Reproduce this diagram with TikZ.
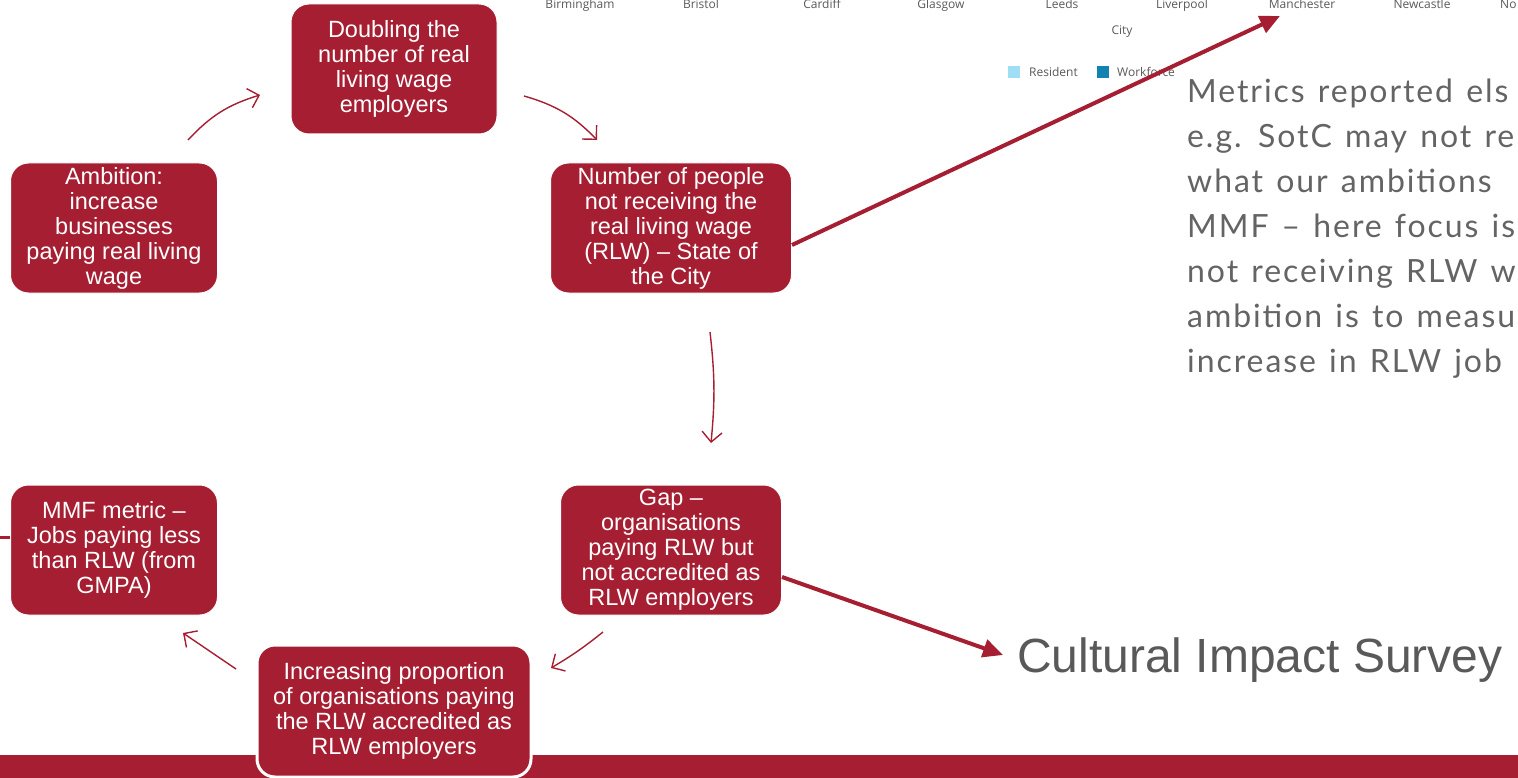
\documentclass[tikz,border=0pt]{standalone}
\usepackage{fontspec}
\setmainfont{Liberation Sans}
\newfontfamily\latofont[LetterSpace=6,WordSpace=1.3]{Lato}
\newfontfamily\chartfont{Open Sans}
\usetikzlibrary{arrows.meta}
\definecolor{crim}{RGB}{166,30,50}
\definecolor{txtgrey}{RGB}{89,89,89}
\definecolor{metricgrey}{RGB}{100,100,100}
\definecolor{resblue}{RGB}{160,222,246}
\definecolor{wfblue}{RGB}{18,130,176}
\begin{document}
\begin{tikzpicture}[x=1pt,y=-1pt,
  box/.style={draw=white,line width=1pt,fill=crim,rounded corners=18pt,text=white,align=center,
    font=\fontsize{23.5}{25}\selectfont,inner sep=0pt},
  thinarrow/.style={draw=crim,line width=1.4pt,-{Straight Barb[length=10pt,width=20pt,line width=1.4pt]}},
  thickarrow/.style={draw=crim,line width=4pt,-{Triangle[length=20pt,width=18pt]}},
  city/.style={font=\chartfont\fontsize{12}{14}\selectfont,text=txtgrey,anchor=base,inner sep=0pt},
  legend/.style={font=\chartfont\fontsize{12}{14}\selectfont,text=txtgrey,anchor=base west,inner sep=0pt}]
\path[use as bounding box,clip] (0,0) rectangle (1518,778);

% chart remnants
\node[city] (c1) at (580,9) {Birmingham};
\node[city] (c2) at (701,9) {Bristol};
\node[city] (c3) at (822,9) {Cardiff};
\node[city] (c4) at (941,9) {Glasgow};
\node[city] (c5) at (1062,9) {Leeds};
\node[city] (c6) at (1182,9) {Liverpool};
\node[city] (c7) at (1302,9) {Manchester};
\node[city] (c8) at (1422,9) {Newcastle};
\node[legend] (c9) at (1500,9) {No};
\node[city] (cityaxis) at (1122,35) {City};
\fill[resblue] (1008,66) rectangle (1020,78);
\node[legend] (lres) at (1029,77) {Resident};
\fill[wfblue] (1097,66) rectangle (1109,78);
\node[legend] (lwf) at (1117,77) {Workforce};

% bottom bar
\fill[crim] (0,755) rectangle (1518,778);

% boxes
\node[box,minimum width=206pt,minimum height=130pt] (dbl) at (394,69)
  {Doubling the\\number of real\\living wage\\employers};
\node[box,minimum width=241pt,minimum height=130pt] (num) at (671,228)
  {Number of people\\not receiving the\\real living wage\\(RLW) – State of\\the City};
\node[box,minimum width=207pt,minimum height=130pt] (amb) at (114,228)
  {Ambition:\\increase\\businesses\\paying real living\\wage};
\node[box,minimum width=221pt,minimum height=130pt] (gap) at (671,550)
  {Gap –\\organisations\\paying RLW but\\not accredited as\\RLW employers};
\node[box,minimum width=207pt,minimum height=130pt] (mmf) at (114,550)
  {MMF metric –\\Jobs paying less\\than RLW (from\\GMPA)};
\node[box,line width=3pt,minimum width=274pt,minimum height=132pt] (inc) at (394,711)
  {Increasing proportion\\of organisations paying\\the RLW accredited as\\RLW employers};

% texts
\node[anchor=north west,align=left,inner sep=0pt,text=metricgrey,
  font=\latofont\fontsize{32}{45}\selectfont] (metrics) at (1187,79)
  {Metrics reported els\\e.g. SotC may not re\\what our ambitions\\MMF – here focus is\\not receiving RLW w\\ambition is to measu\\increase in RLW job};
\node[anchor=base west,inner sep=0pt,text=txtgrey,font=\fontsize{48}{50}\selectfont] (cis) at (1017,672)
  {Cultural Impact Survey};

% free ends
\coordinate (a1s) at (188,140); \coordinate (a1e) at (260,95);
\coordinate (a2s) at (524,96);  \coordinate (a2e) at (597,140);
\coordinate (a3s) at (710,332); \coordinate (a3e) at (711,443);
\coordinate (a4s) at (603,632); \coordinate (a4e) at (551,668);
\coordinate (a5s) at (236,669); \coordinate (a5e) at (183,633);
\coordinate (manch) at (1280,16);
\coordinate (leftend) at (0,537);
\path ([xshift=-14pt]cis.west) coordinate (cisw);

% thin cycle arrows
\draw[thinarrow] (a1s) to[bend left=15] (a1e);
\draw[thinarrow] (a2s) to[bend left=15] (a2e);
\draw[thinarrow] (a3s) to[bend left=6] (a3e);
\draw[thinarrow] (a4s) to[bend left=4] (a4e);
\draw[thinarrow] (a5s) to (a5e);

% thick arrows
\draw[thickarrow] ([yshift=-17pt]num.east) -- (manch);
\draw[thickarrow] ([yshift=-27pt]gap.east) -- (cisw |- 0,655);
\draw[crim,line width=3pt] (leftend) -- ([yshift=13pt]mmf.west);
\end{tikzpicture}
\end{document}
